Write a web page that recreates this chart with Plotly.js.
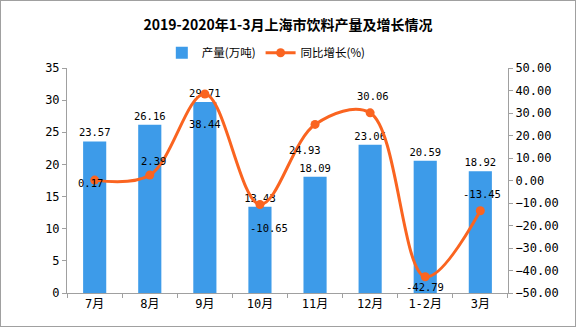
<!DOCTYPE html>
<html><head><meta charset="utf-8">
<script src="https://cdn.plot.ly/plotly-3.0.1.min.js"></script>
<style>
html,body{margin:0;padding:0;background:#fff;}
#chart{width:576px;height:327px;box-sizing:border-box;border:1px solid #a0a0a0;}
</style></head>
<body><div id="chart"></div>
<script>
const categories = ["7月","8月","9月","10月","11月","12月","1-2月","3月"];
const output = [23.57, 26.16, 29.71, 13.43, 18.09, 23.06, 20.59, 18.92];
const growth = [0.17, 2.39, 38.44, -10.65, 24.93, 30.06, -42.79, -13.45];
const leftTicks = [0,5,10,15,20,25,30,35];
const rightTicks = [-50,-40,-30,-20,-10,0,10,20,30,40,50];
// label offsets (px) for growth labels, style only
const labelXShift = [-4, 4, 0, 9, -10, 3, 0, 2];
const labelYShift = [-3, 14, -30, -24, -26, 17, -10, 17];

const mono = "'DejaVu Sans Mono', 'Noto Sans CJK SC', monospace";
const cjk = "'Noto Sans CJK SC', sans-serif";
const traces = [
  {type:'bar', name:'产量(万吨)', x:categories, y:output, marker:{color:'#3d9be9'}, width:0.42,
   text:output.map(v=>v.toFixed(2)), textposition:'outside', cliponaxis:false, constraintext:'none',
   textfont:{size:10.5,color:'#000',family:mono}},
  {type:'scatter', mode:'lines+markers', name:'同比增长(%)', x:categories, y:growth, yaxis:'y2',
   line:{color:'#fa6420', width:3, shape:'spline', smoothing:1}, marker:{color:'#fa6420', size:9}, cliponaxis:false}
];
const annotations = categories.map((c,i)=>({
  x:c, y:growth[i], xref:'x', yref:'y2', text:growth[i].toFixed(2), showarrow:false,
  xshift:labelXShift[i], yshift:labelYShift[i], font:{size:10.5, color:'#000', family:mono}
}));
const layout = {
  width:574, height:325,
  margin:{l:66, r:67, t:67, b:33},
  paper_bgcolor:'#fff', plot_bgcolor:'#fff',
  font:{family:mono, size:12, color:'#000'},
  title:{text:'<b>2019-2020年1-3月上海市饮料产量及增长情况</b>', x:0.5, xanchor:'center', y:0.925, yanchor:'middle', font:{size:14, color:'#000', family:cjk}},
  showlegend:true,
  legend:{orientation:'h', x:0.215, xanchor:'left', y:1.068, yanchor:'middle', font:{size:11.5, family:cjk}, bgcolor:'rgba(0,0,0,0)', itemwidth:30},
  annotations:annotations,
  xaxis:{type:'category', showline:true, linecolor:'#a0a0a0', linewidth:1, ticks:'outside', ticklen:4, tickcolor:'#a0a0a0',
         tickson:'boundaries', showgrid:false, tickfont:{size:12, family:mono}, zeroline:false},
  yaxis:{range:[0,35], tickvals:leftTicks, showline:true, linecolor:'#a0a0a0', ticks:'outside', ticklen:4, tickcolor:'#a0a0a0',
         showgrid:false, zeroline:false, tickfont:{size:12, family:mono}},
  yaxis2:{range:[-50,50], tickvals:rightTicks, tickformat:'.2f', overlaying:'y', side:'right', showline:true, linecolor:'#a0a0a0',
          ticks:'outside', ticklen:4, tickcolor:'#a0a0a0', showgrid:false, zeroline:false, tickfont:{size:12, family:mono}}
};
Plotly.newPlot('chart', traces, layout, {displayModeBar:false, staticPlot:true});
</script></body></html>
